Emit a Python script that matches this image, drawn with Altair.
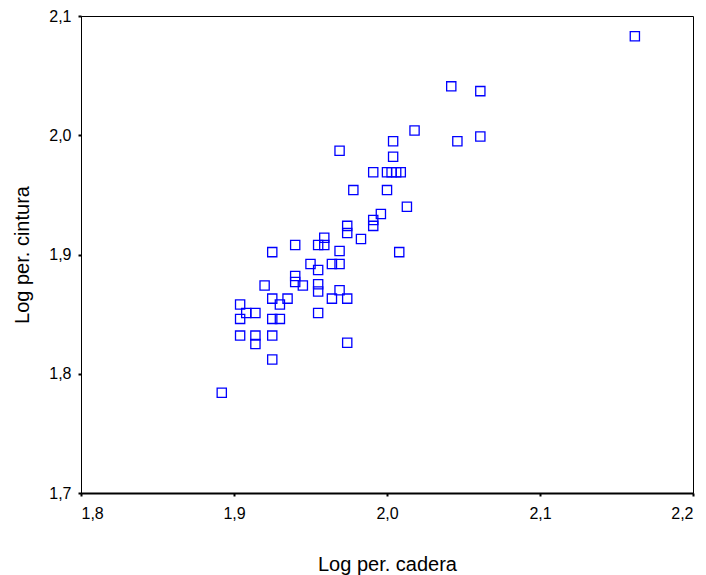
import altair as alt
import pandas as pd

# Log per. cadera (x) and Log per. cintura (y)
cadera = [
    2.162, 2.042, 2.061, 2.018, 2.061, 2.046, 2.004, 1.969, 2.004,
    1.991, 2.000, 2.003, 2.006, 2.009,
    1.978, 2.000, 2.013, 1.996, 1.991, 1.991,
    1.974, 1.974, 1.983, 1.959, 1.959, 1.955, 1.940,
    1.925, 1.969, 2.008, 1.950, 1.964, 1.969, 1.955,
    1.940, 1.940, 1.945, 1.920, 1.955, 1.955, 1.969,
    1.935, 1.925, 1.964, 1.974, 1.930, 1.904,
    1.908, 1.914, 1.955, 1.904, 1.925, 1.930,
    1.904, 1.914, 1.914, 1.925, 1.974, 1.925, 1.892,
]
cintura = [
    2.083, 2.041, 2.037, 2.004, 1.999, 1.995, 1.995, 1.987, 1.982,
    1.969, 1.969, 1.969, 1.969, 1.969,
    1.954, 1.954, 1.940, 1.934, 1.929, 1.924,
    1.924, 1.918, 1.913, 1.914, 1.908, 1.908, 1.908,
    1.902, 1.903, 1.902, 1.892, 1.892, 1.892, 1.887,
    1.882, 1.877, 1.874, 1.874, 1.875, 1.869, 1.870,
    1.863, 1.863, 1.863, 1.863, 1.858, 1.858,
    1.851, 1.851, 1.851, 1.846, 1.846, 1.846,
    1.832, 1.832, 1.825, 1.832, 1.826, 1.812, 1.784,
]
x_ticks = [1.8, 1.9, 2.0, 2.1, 2.2]
y_ticks = [1.7, 1.8, 1.9, 2.0, 2.1]

df = pd.DataFrame({"cadera": cadera, "cintura": cintura})

label_expr = "replace(format(datum.value, '.1f'), '.', ',')"

chart = alt.Chart(df).mark_point(
    shape="square", filled=False, color="#0000ff", size=85, strokeWidth=1.3, opacity=1
).encode(
    x=alt.X("cadera:Q", scale=alt.Scale(domain=[1.8, 2.2], nice=False, zero=False),
            axis=alt.Axis(title="Log per. cadera", values=x_ticks, labelExpr=label_expr,
                          grid=False, tickSize=3, tickWidth=2, tickColor="black",
                          domainColor="black", domainWidth=2,
                          labelFont="Liberation Sans", labelFontSize=16, labelColor="black",
                          labelPadding=9,
                          titleFont="Liberation Sans", titleFontSize=20, titleFontWeight="normal",
                          titleColor="black", titlePadding=33)),
    y=alt.Y("cintura:Q", scale=alt.Scale(domain=[1.7, 2.1], nice=False, zero=False),
            axis=alt.Axis(title="Log per. cintura", values=y_ticks, labelExpr=label_expr,
                          grid=False, tickSize=3, tickWidth=2, tickColor="black",
                          domainColor="black", domainWidth=1,
                          labelFont="Liberation Sans", labelFontSize=16, labelColor="black",
                          labelPadding=7,
                          titleFont="Liberation Sans", titleFontSize=20, titleFontWeight="normal",
                          titleColor="black", titlePadding=16)),
).properties(
    width=612, height=477,
    autosize=alt.AutoSizeParams(type="none"),
    padding={"left": 73, "top": 8, "right": 5, "bottom": 100},
).configure_view(
    stroke="black", strokeWidth=1
)

chart.save("out.html", embed_options={"renderer": "svg", "actions": False})
